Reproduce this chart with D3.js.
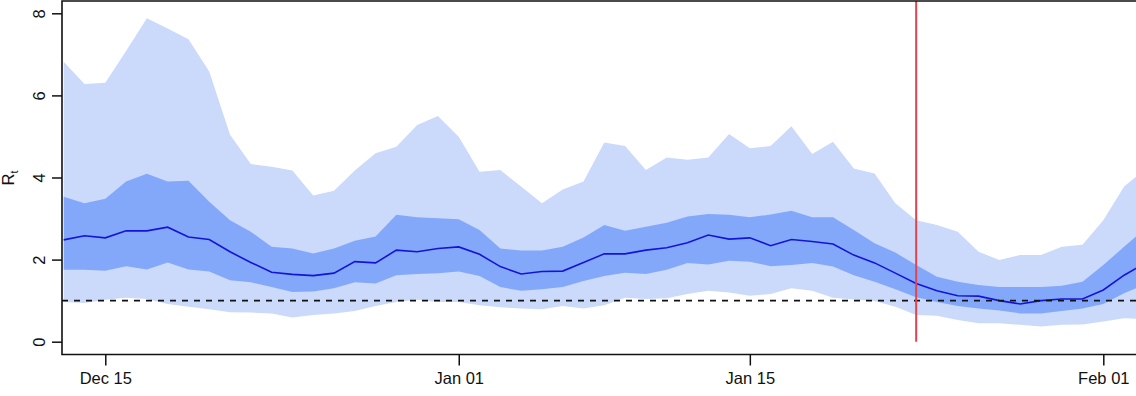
<!DOCTYPE html>
<html>
<head>
<meta charset="utf-8">
<script src="https://cdn.jsdelivr.net/npm/d3@7"></script>
<style>
  body { margin: 0; background: #fff; }
  svg { display: block; font-family: "Liberation Sans", Arial, Helvetica, sans-serif; }
</style>
</head>
<body>
<div id="chart"></div>
<script>
// daily estimates, Dec 13 .. Feb 03
const startDay = '2020-12-13';
const endDay = '2021-02-04';
const interventionDay = '2021-01-23';

const upper95 = [6.82,6.28,6.31,7.08,7.88,7.63,7.37,6.58,5.04,4.33,4.26,4.17,3.56,3.68,4.17,4.59,4.75,5.28,5.50,4.99,4.14,4.18,3.78,3.37,3.71,3.90,4.85,4.77,4.18,4.49,4.43,4.49,5.06,4.71,4.77,5.25,4.57,4.87,4.22,4.10,3.37,2.96,2.84,2.68,2.19,1.99,2.11,2.11,2.31,2.36,2.96,3.78,4.20];
const upper50 = [3.53,3.37,3.48,3.90,4.09,3.90,3.92,3.41,2.96,2.68,2.31,2.27,2.15,2.27,2.46,2.56,3.09,3.03,3.01,2.98,2.72,2.27,2.22,2.22,2.31,2.54,2.84,2.70,2.80,2.90,3.05,3.11,3.09,3.03,3.10,3.19,3.03,3.03,2.72,2.40,2.17,1.87,1.58,1.46,1.38,1.33,1.33,1.33,1.36,1.46,1.87,2.31,2.75];
const median  = [2.48,2.58,2.53,2.70,2.70,2.79,2.55,2.49,2.19,1.93,1.69,1.64,1.61,1.67,1.95,1.92,2.23,2.19,2.27,2.31,2.13,1.83,1.65,1.71,1.72,1.93,2.14,2.14,2.23,2.29,2.41,2.60,2.50,2.53,2.34,2.49,2.44,2.38,2.11,1.92,1.67,1.42,1.24,1.12,1.11,1.00,0.92,1.00,1.04,1.04,1.26,1.62,1.91];
const lower50 = [1.75,1.75,1.73,1.84,1.76,1.93,1.76,1.71,1.50,1.45,1.33,1.21,1.22,1.30,1.45,1.42,1.62,1.65,1.67,1.71,1.60,1.33,1.24,1.28,1.33,1.48,1.60,1.68,1.65,1.75,1.92,1.88,1.97,1.95,1.84,1.87,1.92,1.83,1.62,1.46,1.28,1.08,0.97,0.87,0.81,0.76,0.69,0.69,0.75,0.81,0.92,1.18,1.39];
const lower95 = [0.97,0.94,1.02,1.07,1.04,0.92,0.85,0.79,0.72,0.71,0.69,0.59,0.65,0.69,0.75,0.87,0.97,1.02,0.97,0.97,0.89,0.84,0.81,0.79,0.87,0.81,0.89,1.07,1.04,1.06,1.16,1.24,1.20,1.12,1.16,1.30,1.24,1.07,1.03,0.99,0.85,0.65,0.63,0.53,0.45,0.45,0.41,0.37,0.41,0.42,0.49,0.57,0.55];

const xTickLabels = ['2020-12-15', '2021-01-01', '2021-01-15', '2021-02-01'];
const yTicks = [0, 2, 4, 6, 8];
const threshold = 1;

const width = 1136, height = 396;
const plotLeft = 62, plotTop = 1, plotBottom = 354.5;
const fontSize = 16.5;

const parse = d3.utcParse('%Y-%m-%d');
const dates = d3.utcDays(parse(startDay), parse(endDay));
const rows = dates.map((d, i) => ({
  date: d, lo95: lower95[i], lo50: lower50[i], med: median[i], hi50: upper50[i], hi95: upper95[i]
}));

const svg = d3.select('#chart')
  .append('svg')
  .attr('width', width)
  .attr('height', height);

const x = d3.scaleTime()
  .domain([parse('2020-12-13'), parse('2021-02-01')])
  .range([63.7, 1103.3]);

const y = d3.scaleLinear()
  .domain([0, 8])
  .range([341.7, 13.3]);

// bands
svg.append('path')
  .datum(rows)
  .attr('fill', '#cbdafb')
  .attr('d', d3.area().x(d => x(d.date)).y0(d => y(d.lo95)).y1(d => y(d.hi95)));

svg.append('path')
  .datum(rows)
  .attr('fill', '#84a8f9')
  .attr('d', d3.area().x(d => x(d.date)).y0(d => y(d.lo50)).y1(d => y(d.hi50)));

// median
svg.append('path')
  .datum(rows)
  .attr('fill', 'none')
  .attr('stroke', '#1414d6')
  .attr('stroke-width', 1.6)
  .attr('d', d3.line().x(d => x(d.date)).y(d => y(d.med)));

// R = 1 reference
svg.append('line')
  .attr('x1', plotLeft).attr('x2', width)
  .attr('y1', y(threshold)).attr('y2', y(threshold))
  .attr('stroke', '#111')
  .attr('stroke-width', 1.6)
  .attr('stroke-dasharray', '6,6');

// intervention date
svg.append('line')
  .attr('x1', x(parse(interventionDay))).attr('x2', x(parse(interventionDay)))
  .attr('y1', y(0)).attr('y2', plotTop)
  .attr('stroke', '#e2434d')
  .attr('stroke-width', 2);

// frame
svg.append('path')
  .attr('d', `M${width + 5},${plotTop}H${plotLeft}V${plotBottom}H${width + 5}`)
  .attr('fill', 'none')
  .attr('stroke', '#111')
  .attr('stroke-width', 1.6);

// y axis
const yAxis = svg.append('g')
  .attr('transform', `translate(${plotLeft},0)`)
  .call(d3.axisLeft(y).tickValues(yTicks).tickSize(10).tickSizeOuter(0));
yAxis.select('.domain').remove();
yAxis.selectAll('line').attr('stroke', '#111').attr('stroke-width', 1.5);
yAxis.selectAll('text')
  .attr('transform', 'rotate(-90)')
  .attr('x', 0).attr('y', -17).attr('dy', 0)
  .style('text-anchor', 'middle')
  .attr('fill', '#111')
  .attr('font-size', fontSize);

// x axis
const xAxis = svg.append('g')
  .attr('transform', `translate(0,${plotBottom})`)
  .call(d3.axisBottom(x)
    .tickValues(xTickLabels.map(parse))
    .tickFormat(d3.utcFormat('%b %d'))
    .tickSize(11).tickSizeOuter(0));
xAxis.select('.domain').remove();
xAxis.selectAll('line').attr('stroke', '#111').attr('stroke-width', 1.5);
xAxis.selectAll('text')
  .attr('y', 29).attr('dy', 0)
  .attr('fill', '#111')
  .attr('font-size', fontSize);

// y title
const title = svg.append('text')
  .attr('transform', 'translate(14,178) rotate(-90)')
  .attr('text-anchor', 'middle')
  .attr('font-size', fontSize)
  .attr('fill', '#111');
title.append('tspan').text('R');
title.append('tspan').attr('font-size', 11).attr('dy', 4).text('t');
</script>
</body>
</html>
